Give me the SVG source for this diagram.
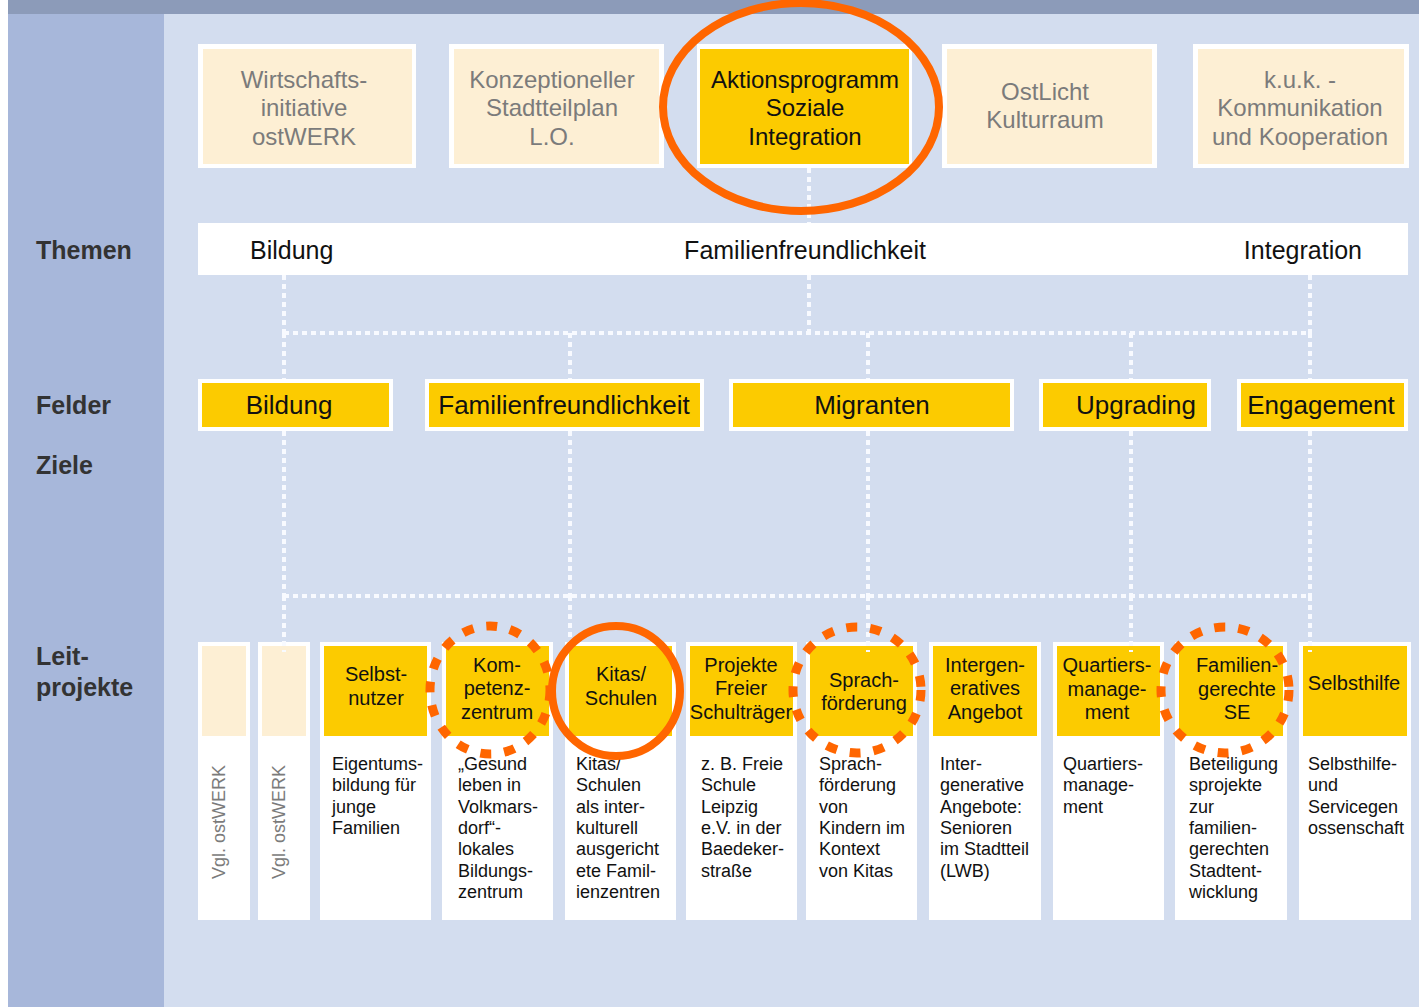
<svg xmlns="http://www.w3.org/2000/svg" width="1419" height="1007" viewBox="0 0 1419 1007">
<style>
text{font-family:"Liberation Sans",Arial,sans-serif}
.lbl{font-size:25px;font-weight:bold;fill:#333}
.top{font-size:24px;fill:#7b7b7b;text-anchor:middle}
.topA{font-size:24px;fill:#111;text-anchor:middle}
.thm{font-size:25px;fill:#111}
.fld{font-size:26px;fill:#111;text-anchor:middle}
.hd{font-size:20px;fill:#111;text-anchor:middle}
.ds{font-size:18px;fill:#111}
.vg{font-size:18px;fill:#7b7b7b;text-anchor:middle}
.wb{fill:#fff}
.cream{fill:#fdefd4}
.yel{fill:#fccb00}
.dot{stroke:#f8faff;stroke-width:4;stroke-dasharray:5 4;fill:none}
.ring{fill:none;stroke:#ff6600;stroke-width:8}
.dring{fill:none;stroke:#ff6600;stroke-width:9;stroke-dasharray:11 13}
</style>
<rect x="0" y="0" width="1419" height="1007" fill="#fff"/>
<rect x="8" y="0" width="1411" height="14" fill="#8c9bb9"/>
<rect x="8" y="14" width="156" height="993" fill="#a7b7da"/>
<rect x="164" y="14" width="1255" height="993" fill="#d3ddef"/>

<g id="row-labels">
<text class="lbl" x="36" y="259">Themen</text>
<text class="lbl" x="36" y="414">Felder</text>
<text class="lbl" x="36" y="474">Ziele</text>
<text class="lbl" x="36" y="665">Leit-</text>
<text class="lbl" x="36" y="696">projekte</text>
</g>

<g id="top-wirtschaft">
<rect class="wb" x="198" y="44" width="218" height="124"/>
<rect class="cream" x="203" y="49" width="209" height="115"/>
<text class="top" x="304" y="88">Wirtschafts-</text>
<text class="top" x="304" y="116">initiative</text>
<text class="top" x="304" y="145">ostWERK</text>
</g>
<g id="top-konzept">
<rect class="wb" x="449" y="44" width="215" height="124"/>
<rect class="cream" x="454" y="49" width="205" height="115"/>
<text class="top" x="552" y="88">Konzeptioneller</text>
<text class="top" x="552" y="116">Stadtteilplan</text>
<text class="top" x="552" y="145">L.O.</text>
</g>
<g id="top-aktion">
<rect class="wb" x="697" y="44" width="215" height="124"/>
<rect class="yel" x="700" y="49" width="209" height="115"/>
<text class="topA" x="805" y="88">Aktionsprogramm</text>
<text class="topA" x="805" y="116">Soziale</text>
<text class="topA" x="805" y="145">Integration</text>
</g>
<g id="top-ostlicht">
<rect class="wb" x="942" y="44" width="215" height="124"/>
<rect class="cream" x="947" y="49" width="205" height="115"/>
<text class="top" x="1045" y="100">OstLicht</text>
<text class="top" x="1045" y="128">Kulturraum</text>
</g>
<g id="top-kuk">
<rect class="wb" x="1193" y="44" width="216" height="124"/>
<rect class="cream" x="1198" y="49" width="206" height="115"/>
<text class="top" x="1300" y="88">k.u.k. -</text>
<text class="top" x="1300" y="116">Kommunikation</text>
<text class="top" x="1300" y="145">und Kooperation</text>
</g>

<g id="themen">
<rect class="wb" x="198" y="223" width="1210" height="52"/>
<text class="thm" x="250" y="259">Bildung</text>
<text class="thm" x="805" y="259" text-anchor="middle">Familienfreundlichkeit</text>
<text class="thm" x="1362" y="259" text-anchor="end">Integration</text>
</g>

<g id="feld-bildung">
<rect class="wb" x="198" y="379" width="195" height="52"/>
<rect class="yel" x="202" y="383" width="187" height="44"/>
<text class="fld" x="289" y="414">Bildung</text>
</g>
<g id="feld-familie">
<rect class="wb" x="425" y="379" width="279" height="52"/>
<rect class="yel" x="429" y="383" width="271" height="44"/>
<text class="fld" x="564" y="414">Familienfreundlichkeit</text>
</g>
<g id="feld-migranten">
<rect class="wb" x="729" y="379" width="285" height="52"/>
<rect class="yel" x="733" y="383" width="277" height="44"/>
<text class="fld" x="872" y="414">Migranten</text>
</g>
<g id="feld-upgrading">
<rect class="wb" x="1039" y="379" width="172" height="52"/>
<rect class="yel" x="1043" y="383" width="164" height="44"/>
<text class="fld" x="1136" y="414">Upgrading</text>
</g>
<g id="feld-engagement">
<rect class="wb" x="1237" y="379" width="171" height="52"/>
<rect class="yel" x="1241" y="383" width="163" height="44"/>
<text class="fld" x="1321" y="414">Engagement</text>
</g>

<g id="lp-vgl1">
<rect class="wb" x="198" y="642" width="52" height="278"/>
<rect class="cream" x="202" y="646" width="44" height="90"/>
<text class="vg" transform="translate(225,822) rotate(-90)">Vgl. ostWERK</text>
</g>
<g id="lp-vgl2">
<rect class="wb" x="258" y="642" width="52" height="278"/>
<rect class="cream" x="262" y="646" width="44" height="90"/>
<text class="vg" transform="translate(285,822) rotate(-90)">Vgl. ostWERK</text>
</g>
<g id="lp-selbstnutzer">
<rect class="wb" x="320" y="642" width="111" height="278"/>
<rect class="yel" x="324" y="646" width="103" height="90"/>
<text class="hd" x="376" y="681">Selbst-</text>
<text class="hd" x="376" y="705">nutzer</text>
<text class="ds" x="332" y="770">Eigentums-</text>
<text class="ds" x="332" y="791">bildung für</text>
<text class="ds" x="332" y="813">junge</text>
<text class="ds" x="332" y="834">Familien</text>
</g>
<g id="lp-kompetenz">
<rect class="wb" x="442" y="642" width="111" height="278"/>
<rect class="yel" x="446" y="646" width="103" height="90"/>
<text class="hd" x="497" y="672">Kom-</text>
<text class="hd" x="497" y="695">petenz-</text>
<text class="hd" x="497" y="719">zentrum</text>
<text class="ds" x="458" y="770">„Gesund</text>
<text class="ds" x="458" y="791">leben in</text>
<text class="ds" x="458" y="813">Volkmars-</text>
<text class="ds" x="458" y="834">dorf“-</text>
<text class="ds" x="458" y="855">lokales</text>
<text class="ds" x="458" y="877">Bildungs-</text>
<text class="ds" x="458" y="898">zentrum</text>
</g>
<g id="lp-kitas">
<rect class="wb" x="565" y="642" width="111" height="278"/>
<rect class="yel" x="569" y="646" width="103" height="90"/>
<text class="hd" x="621" y="681">Kitas/</text>
<text class="hd" x="621" y="705">Schulen</text>
<text class="ds" x="576" y="770">Kitas/</text>
<text class="ds" x="576" y="791">Schulen</text>
<text class="ds" x="576" y="813">als inter-</text>
<text class="ds" x="576" y="834">kulturell</text>
<text class="ds" x="576" y="855">ausgericht</text>
<text class="ds" x="576" y="877">ete Famil-</text>
<text class="ds" x="576" y="898">ienzentren</text>
</g>
<g id="lp-projekte">
<rect class="wb" x="686" y="642" width="111" height="278"/>
<rect class="yel" x="690" y="646" width="103" height="90"/>
<text class="hd" x="741" y="672">Projekte</text>
<text class="hd" x="741" y="695">Freier</text>
<text class="hd" x="741" y="719">Schulträger</text>
<text class="ds" x="701" y="770">z. B. Freie</text>
<text class="ds" x="701" y="791">Schule</text>
<text class="ds" x="701" y="813">Leipzig</text>
<text class="ds" x="701" y="834">e.V. in der</text>
<text class="ds" x="701" y="855">Baedeker-</text>
<text class="ds" x="701" y="877">straße</text>
</g>
<g id="lp-sprach">
<rect class="wb" x="806" y="642" width="111" height="278"/>
<rect class="yel" x="810" y="646" width="103" height="90"/>
<text class="hd" x="864" y="687">Sprach-</text>
<text class="hd" x="864" y="710">förderung</text>
<text class="ds" x="819" y="770">Sprach-</text>
<text class="ds" x="819" y="791">förderung</text>
<text class="ds" x="819" y="813">von</text>
<text class="ds" x="819" y="834">Kindern im</text>
<text class="ds" x="819" y="855">Kontext</text>
<text class="ds" x="819" y="877">von Kitas</text>
</g>
<g id="lp-intergen">
<rect class="wb" x="929" y="642" width="112" height="278"/>
<rect class="yel" x="933" y="646" width="104" height="90"/>
<text class="hd" x="985" y="672">Intergen-</text>
<text class="hd" x="985" y="695">eratives</text>
<text class="hd" x="985" y="719">Angebot</text>
<text class="ds" x="940" y="770">Inter-</text>
<text class="ds" x="940" y="791">generative</text>
<text class="ds" x="940" y="813">Angebote:</text>
<text class="ds" x="940" y="834">Senioren</text>
<text class="ds" x="940" y="855">im Stadtteil</text>
<text class="ds" x="940" y="877">(LWB)</text>
</g>
<g id="lp-quartier">
<rect class="wb" x="1053" y="642" width="111" height="278"/>
<rect class="yel" x="1057" y="646" width="103" height="90"/>
<text class="hd" x="1107" y="672">Quartiers-</text>
<text class="hd" x="1107" y="696">manage-</text>
<text class="hd" x="1107" y="719">ment</text>
<text class="ds" x="1063" y="770">Quartiers-</text>
<text class="ds" x="1063" y="791">manage-</text>
<text class="ds" x="1063" y="813">ment</text>
</g>
<g id="lp-familien">
<rect class="wb" x="1175" y="642" width="112" height="278"/>
<rect class="yel" x="1179" y="646" width="104" height="90"/>
<text class="hd" x="1237" y="672">Familien-</text>
<text class="hd" x="1237" y="696">gerechte</text>
<text class="hd" x="1237" y="719">SE</text>
<text class="ds" x="1189" y="770">Beteiligung</text>
<text class="ds" x="1189" y="791">sprojekte</text>
<text class="ds" x="1189" y="813">zur</text>
<text class="ds" x="1189" y="834">familien-</text>
<text class="ds" x="1189" y="855">gerechten</text>
<text class="ds" x="1189" y="877">Stadtent-</text>
<text class="ds" x="1189" y="898">wicklung</text>
</g>
<g id="lp-selbsthilfe">
<rect class="wb" x="1299" y="642" width="112" height="278"/>
<rect class="yel" x="1303" y="646" width="104" height="90"/>
<text class="hd" x="1354" y="690">Selbsthilfe</text>
<text class="ds" x="1308" y="770">Selbsthilfe-</text>
<text class="ds" x="1308" y="791">und</text>
<text class="ds" x="1308" y="813">Servicegen</text>
<text class="ds" x="1308" y="834">ossenschaft</text>
</g>

<g id="connectors">
<path class="dot" d="M809 168V223"/>
<path class="dot" d="M284 275V333M809 275V333M1310 275V333"/>
<path class="dot" d="M284 333H1310"/>
<path class="dot" d="M284 333V379M570 333V379M868 333V379M1131 333V379M1310 333V379"/>
<path class="dot" d="M284 431V596M570 431V596M868 431V596M1131 431V596M1310 431V596"/>
<path class="dot" d="M284 596H1310"/>
<path class="dot" d="M284 596V652M570 596V642M868 596V652M1131 596V652M1310 596V652"/>
</g>

<g id="highlights">
<ellipse class="ring" cx="801" cy="107" rx="138" ry="104"/>
<ellipse class="dring" cx="490" cy="690" rx="60" ry="64"/>
<ellipse class="ring" cx="616" cy="691" rx="64" ry="65"/>
<ellipse class="dring" cx="857" cy="690" rx="64" ry="63"/>
<ellipse class="dring" cx="1225" cy="690" rx="64" ry="63"/>
</g>
</svg>
